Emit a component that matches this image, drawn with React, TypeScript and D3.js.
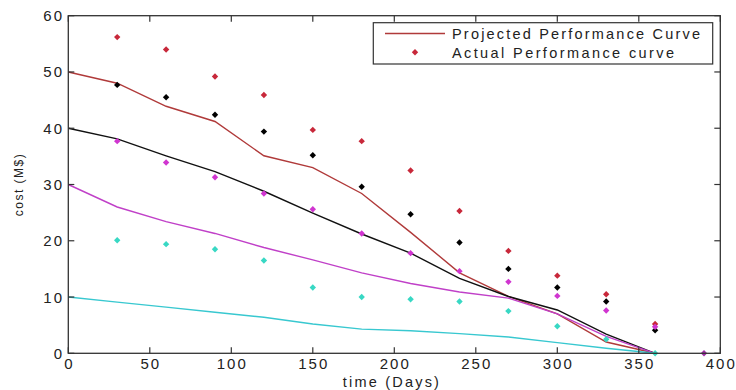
import React from "react";
import * as d3 from "d3";

const days = [0, 30, 60, 90, 120, 150, 180, 210, 240, 270, 300, 330, 360];
const actualDays = [30, 60, 90, 120, 150, 180, 210, 240, 270, 300, 330, 360];

const projRed = [50, 48.0, 43.9, 41.2, 35.1, 33.0, 28.4, 21.5, 14.3, 10.1, 7.0, 2.0, 0];
const projBlack = [40, 38.1, 35.1, 32.3, 28.8, 24.9, 21.2, 17.8, 13.3, 10.1, 7.7, 3.4, 0];
const projMagenta = [30, 26.0, 23.4, 21.3, 18.8, 16.6, 14.3, 12.4, 10.9, 9.8, 7.0, 3.0, 0];
const projCyan = [10, 9.1, 8.2, 7.3, 6.4, 5.2, 4.3, 4.0, 3.5, 2.9, 1.9, 0.9, 0];

const actRed = [56.2, 54.0, 49.2, 45.9, 39.7, 37.7, 32.5, 25.3, 18.2, 13.8, 10.5, 5.2];
const actBlack = [47.7, 45.5, 42.4, 39.4, 35.2, 29.6, 24.7, 19.7, 15.0, 11.7, 9.2, 4.1];
const actMagenta = [37.7, 33.9, 31.3, 28.4, 25.6, 21.3, 17.8, 14.6, 12.7, 10.2, 7.6, 4.7];
const actCyan = [20.1, 19.4, 18.5, 16.5, 11.7, 10.0, 9.6, 9.2, 7.5, 4.8, 2.5, 0];
const extraDay = [390];
const extraMagenta = [0];

const xTicks = [0, 50, 100, 150, 200, 250, 300, 350, 400];
const yTicks = [0, 10, 20, 30, 40, 50, 60];

const legendLabels = ["Projected Performance Curve", "Actual Performance curve"];

const series = [
  { proj: projRed, act: actRed, line: "#b03a3a", pt: "#c8283a" },
  { proj: projBlack, act: actBlack, line: "#111111", pt: "#000000" },
  { proj: projMagenta, act: actMagenta, line: "#c040c8", pt: "#d035d0" },
  { proj: projCyan, act: actCyan, line: "#38c8d0", pt: "#38d8c4" },
];

const W = 736;
const H = 390;
const L = 68.3, R = 720.3, T = 15.7, B = 353.3;

function Diamond({ cx, cy, fill }: { cx: number; cy: number; fill: string }) {
  const r = 3.2;
  return (
    <path
      d={`M${cx},${cy - r}L${cx + r},${cy}L${cx},${cy + r}L${cx - r},${cy}Z`}
      fill={fill}
    />
  );
}

export default function App() {
  const x = d3.scaleLinear().domain([0, 400]).range([L, R]);
  const y = d3.scaleLinear().domain([0, 60]).range([B, T]);
  const line = d3
    .line<number>()
    .x((_, i) => x(days[i]))
    .y((d) => y(d));
  const axisColor = "#333";
  const font = "'Liberation Sans', Arial, sans-serif";
  const tick = 6;

  return (
    <svg
      width={W}
      height={H}
      style={{ position: "absolute", left: 0, top: 0, background: "#fff" }}
      fontFamily={font}
    >
      <rect x={0} y={0} width={W} height={H} fill="#fff" />
      {series.map((s, k) => (
        <path key={"l" + k} d={line(s.proj) || ""} fill="none" stroke={s.line} strokeWidth={1.4} />
      ))}
      {series.map((s, k) =>
        s.act.map((v, i) => (
          <Diamond key={`p${k}-${i}`} cx={x(actualDays[i])} cy={y(v)} fill={s.pt} />
        ))
      )}
      {extraDay.map((d, i) => (
        <Diamond key={"e" + i} cx={x(d)} cy={y(extraMagenta[i])} fill="#a030a8" />
      ))}
      {/* frame */}
      <rect x={L} y={T} width={R - L} height={B - T} fill="none" stroke={axisColor} strokeWidth={1.3} />
      {xTicks.map((t) => (
        <g key={"xt" + t}>
          <line x1={x(t)} x2={x(t)} y1={B} y2={B - tick} stroke={axisColor} strokeWidth={1.2} />
          <line x1={x(t)} x2={x(t)} y1={T} y2={T + tick} stroke={axisColor} strokeWidth={1.2} />
          <text
            x={x(t) + 1}
            y={369}
            textAnchor="middle"
            fontSize={15}
            letterSpacing={2}
            fill="#222"
          >
            {t}
          </text>
        </g>
      ))}
      {yTicks.map((t) => (
        <g key={"yt" + t}>
          <line x1={L} x2={L + tick} y1={y(t)} y2={y(t)} stroke={axisColor} strokeWidth={1.2} />
          <line x1={R} x2={R - tick} y1={y(t)} y2={y(t)} stroke={axisColor} strokeWidth={1.2} />
          <text
            x={64}
            y={y(t) + 5.5}
            textAnchor="end"
            fontSize={15}
            letterSpacing={2}
            fill="#222"
          >
            {t}
          </text>
        </g>
      ))}
      <text x={392} y={386.5} textAnchor="middle" fontSize={14.5} letterSpacing={2.2} fill="#222">
        time (Days)
      </text>
      <text
        transform={`translate(23,${(T + B) / 2}) rotate(-90)`}
        textAnchor="middle"
        fontSize={12}
        letterSpacing={1.5}
        fill="#222"
      >
        cost (M$)
      </text>
      {/* legend */}
      <rect x={373.3} y={22.7} width={339.4} height={41.3} fill="#fff" stroke={axisColor} strokeWidth={1.2} />
      <line x1={385} x2={445} y1={33.5} y2={33.5} stroke={series[0].line} strokeWidth={1.4} />
      <Diamond cx={415} cy={52.3} fill={series[0].pt} />
      <text x={452} y={38.5} fontSize={14.5} textLength={248} lengthAdjust="spacing" fill="#222">
        {legendLabels[0]}
      </text>
      <text x={452} y={57.5} fontSize={14.5} textLength={222} lengthAdjust="spacing" fill="#222">
        {legendLabels[1]}
      </text>
    </svg>
  );
}
